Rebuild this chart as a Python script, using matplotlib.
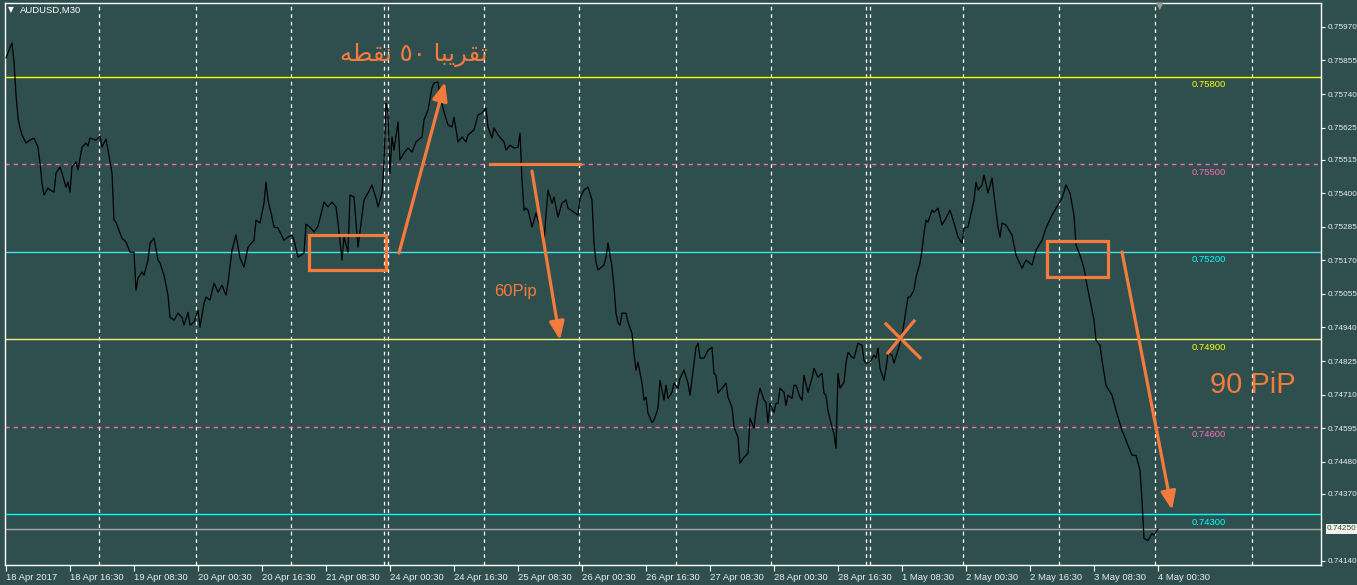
import matplotlib
matplotlib.use('Agg')
import matplotlib.pyplot as plt
from matplotlib.patches import Rectangle

# AUDUSD M30 closes (bar number, price)
bars = [0, 3, 4, 5, 6, 7, 8, 10, 12, 14, 16, 17, 18, 19, 21, 22, 24, 25, 27, 28,
        30, 31, 32, 33, 35, 36, 38, 40, 41, 42, 45, 47, 48, 50, 51, 53, 54, 55, 56, 58,
        60, 62, 64, 65, 66, 68, 69, 71, 72, 74, 76, 77, 79, 81, 82, 84, 86, 88, 89, 91,
        92, 94, 96, 97, 99, 100, 102, 104, 106, 108, 110, 111, 113, 115, 117, 119, 121, 124, 125, 127,
        129, 130, 131, 133, 134, 136, 139, 141, 143, 144, 146, 149, 150, 152, 154, 156, 158, 159, 161, 163,
        165, 166, 168, 169, 171, 172, 174, 176, 179, 181, 183, 185, 186, 188, 189, 190, 191, 192, 193, 194,
        196, 197, 199, 201, 203, 205, 208, 209, 211, 213, 214, 216, 217, 219, 221, 223, 224, 226, 228, 230,
        231, 234, 236, 238, 240, 241, 243, 244, 246, 249, 250, 252, 254, 256, 257, 258, 259, 260, 261, 263,
        265, 266, 268, 269, 271, 273, 274, 276, 278, 280, 281, 284, 286, 287, 289, 291, 293, 294, 295, 296,
        299, 300, 301, 303, 304, 305, 306, 307, 308, 310, 311, 313, 314, 315, 316, 318, 319, 320, 321, 323,
        324, 326, 327, 329, 330, 331, 333, 334, 336, 337, 339, 341, 342, 344, 345, 346, 347, 349, 351, 353,
        354, 355, 356, 358, 360, 361, 363, 364, 366, 367, 369, 371, 372, 374, 375, 376, 377, 379, 380, 381,
        382, 384, 385, 386, 387, 389, 390, 391, 393, 394, 395, 397, 398, 399, 401, 403, 404, 406, 408, 409,
        410, 411, 413, 414, 415, 416, 417, 419, 420, 421, 423, 424, 426, 428, 429, 430, 432, 434, 435, 436,
        437, 439, 440, 441, 443, 444, 446, 448, 449, 451, 452, 454, 455, 457, 458, 459, 460, 461, 463, 464,
        466, 468, 470, 472, 474, 476, 478, 479, 481, 482, 484, 485, 486, 488, 489, 491, 493, 494, 496, 497,
        498, 500, 503, 505, 508, 510, 513, 515, 518, 520, 523, 525, 528, 530, 532, 534, 535, 537, 539, 540,
        542, 544, 545, 547, 548, 550, 553, 555, 558, 560, 563, 565, 567, 568, 569, 571, 573, 574, 576]
close = [0.75864, 0.75915, 0.75850, 0.75737, 0.75658, 0.75624, 0.75600, 0.75572, 0.75582, 0.75589,
         0.75558, 0.75504, 0.75435, 0.75394, 0.75418, 0.75411, 0.75404, 0.75469, 0.75490, 0.75469,
         0.75421, 0.75438, 0.75404, 0.75490, 0.75507, 0.75480, 0.75558, 0.75572, 0.75562, 0.75589,
         0.75582, 0.75596, 0.75558, 0.75586, 0.75548, 0.75469, 0.75308, 0.75301, 0.75281, 0.75246,
         0.75233, 0.75198, 0.75198, 0.75068, 0.75109, 0.75130, 0.75119, 0.75171, 0.75229, 0.75246,
         0.75171, 0.75161, 0.75119, 0.75051, 0.74975, 0.74965, 0.74989, 0.74975, 0.74948, 0.74992,
         0.74948, 0.74958, 0.74999, 0.74941, 0.75023, 0.75044, 0.75034, 0.75092, 0.75061, 0.75085,
         0.75051, 0.75092, 0.75205, 0.75257, 0.75178, 0.75147, 0.75215, 0.75239, 0.75308, 0.75298,
         0.75366, 0.75438, 0.75377, 0.75318, 0.75284, 0.75281, 0.75239, 0.75250, 0.75257, 0.75239,
         0.75181, 0.75195, 0.75294, 0.75284, 0.75267, 0.75287, 0.75342, 0.75370, 0.75353, 0.75370,
         0.75353, 0.75298, 0.75171, 0.75250, 0.75198, 0.75394, 0.75387, 0.75215, 0.75377, 0.75401,
         0.75428, 0.75383, 0.75353, 0.75401, 0.75504, 0.75709, 0.75675, 0.75469, 0.75593, 0.75548,
         0.75644, 0.75514, 0.75538, 0.75555, 0.75541, 0.75576, 0.75593, 0.75651, 0.75685, 0.75761,
         0.75778, 0.75781, 0.75737, 0.75678, 0.75634, 0.75627, 0.75661, 0.75576, 0.75593, 0.75576,
         0.75600, 0.75617, 0.75668, 0.75675, 0.75692, 0.75627, 0.75589, 0.75624, 0.75600, 0.75576,
         0.75548, 0.75565, 0.75555, 0.75558, 0.75606, 0.75445, 0.75342, 0.75349, 0.75342, 0.75284,
         0.75332, 0.75308, 0.75274, 0.75239, 0.75411, 0.75366, 0.75387, 0.75318, 0.75366, 0.75377,
         0.75349, 0.75335, 0.75325, 0.75383, 0.75411, 0.75421, 0.75377, 0.75229, 0.75164, 0.75137,
         0.75154, 0.75181, 0.75229, 0.75147, 0.75078, 0.74989, 0.74955, 0.74948, 0.74989, 0.74989,
         0.74958, 0.74920, 0.74852, 0.74794, 0.74821, 0.74749, 0.74691, 0.74701, 0.74646, 0.74615,
         0.74622, 0.74663, 0.74759, 0.74691, 0.74742, 0.74697, 0.74718, 0.74749, 0.74732, 0.74766,
         0.74794, 0.74749, 0.74708, 0.74818, 0.74872, 0.74886, 0.74835, 0.74835, 0.74862, 0.74872,
         0.74783, 0.74776, 0.74715, 0.74732, 0.74749, 0.74701, 0.74667, 0.74598, 0.74564, 0.74475,
         0.74495, 0.74509, 0.74629, 0.74595, 0.74656, 0.74701, 0.74732, 0.74691, 0.74684, 0.74612,
         0.74680, 0.74649, 0.74680, 0.74680, 0.74732, 0.74718, 0.74673, 0.74708, 0.74697, 0.74742,
         0.74742, 0.74701, 0.74691, 0.74776, 0.74718, 0.74766, 0.74800, 0.74769, 0.74783, 0.74715,
         0.74708, 0.74656, 0.74598, 0.74577, 0.74526, 0.74783, 0.74732, 0.74752, 0.74818, 0.74855,
         0.74838, 0.74835, 0.74886, 0.74879, 0.74828, 0.74818, 0.74821, 0.74845, 0.74835, 0.74869,
         0.74800, 0.74759, 0.74800, 0.74852, 0.74845, 0.74818, 0.74862, 0.74914, 0.74955, 0.75044,
         0.75044, 0.75068, 0.75112, 0.75161, 0.75205, 0.75263, 0.75308, 0.75301, 0.75342, 0.75335,
         0.75349, 0.75291, 0.75315, 0.75342, 0.75298, 0.75250, 0.75229, 0.75281, 0.75284, 0.75315,
         0.75377, 0.75438, 0.75411, 0.75428, 0.75462, 0.75401, 0.75452, 0.75394, 0.75284, 0.75250,
         0.75298, 0.75291, 0.75257, 0.75188, 0.75143, 0.75171, 0.75154, 0.75205, 0.75239, 0.75281,
         0.75325, 0.75349, 0.75383, 0.75428, 0.75401, 0.75325, 0.75222, 0.75188, 0.75143, 0.75102,
         0.75034, 0.74965, 0.74896, 0.74879, 0.74828, 0.74742, 0.74708, 0.74656, 0.74588, 0.74553,
         0.74502, 0.74502, 0.74451, 0.74348, 0.74217, 0.74210, 0.74234, 0.74228, 0.74250]

time_labels = ['18 Apr 2017', '18 Apr 16:30', '19 Apr 08:30', '20 Apr 00:30', '20 Apr 16:30',
               '21 Apr 08:30', '24 Apr 00:30', '24 Apr 16:30', '25 Apr 08:30', '26 Apr 00:30',
               '26 Apr 16:30', '27 Apr 08:30', '28 Apr 00:30', '28 Apr 16:30', '1 May 08:30',
               '2 May 00:30', '2 May 16:30', '3 May 08:30', '4 May 00:30']
bars_per_label = 32
price_ticks = [0.75970, 0.75855, 0.75740, 0.75625, 0.75515, 0.75400, 0.75285, 0.75170, 0.75055,
               0.74940, 0.74825, 0.74710, 0.74595, 0.74480, 0.74370, 0.74140]
day_breaks = [46.5, 95, 142.5, 189, 191, 239, 286.5, 335, 382.5, 430, 432, 478.5, 526.5, 574.5, 623]

levels = [0.75800, 0.75500, 0.75200, 0.74900, 0.74600, 0.74300]
level_line_colors = ['#ffff00', '#ff69b4', '#3ee6e6', '#f2f27a', '#ff69b4', '#00ffff']
level_text_colors = ['#ffff00', '#ff69b4', '#00ffff', '#ffff00', '#ff69b4', '#00ffff']
level_dashed = [False, True, False, False, True, False]
bid = 0.74250

BG = '#2f4f4f'
ORANGE = '#f57b3d'
SMALL = 6.8

fig = plt.figure(figsize=(13.57, 5.85), dpi=100, facecolor=BG)
ax = fig.add_axes([5 / 1357, 20 / 585, 1316 / 1357, 562 / 585], facecolor=BG)
ax.set_xlim(-0.5, 657.5)
ax.set_ylim(0.74126, 0.76052)

for s in ax.spines.values():
    s.set_color('white')
    s.set_linewidth(1)

# day separators
for b in day_breaks:
    ax.axvline(b, color='white', lw=0.9, ls=(0, (3, 3)), zorder=1)

# price levels
for lv, lc, tc, dashed in zip(levels, level_line_colors, level_text_colors, level_dashed):
    ax.axhline(lv, color=lc, lw=1.0, ls=(0, (3, 3)) if dashed else '-', zorder=1)
    ax.annotate('%.5f' % lv, xy=(601.5, lv), xytext=(0, -8), textcoords='offset pixels',
                ha='center', va='center', color=tc, fontsize=SMALL, family='Liberation Sans')
ax.axhline(bid, color='#a8a8a8', lw=1.0, zorder=1)

ax.plot(bars, close, color='black', lw=0.9, zorder=3)

# axes ticks
ax.yaxis.tick_right()
ax.set_yticks(price_ticks)
ax.set_yticklabels(['%.5f' % v for v in price_ticks])
ax.set_xticks([i * bars_per_label for i in range(len(time_labels))])
ax.set_xticklabels(time_labels, ha='left')
ax.tick_params(axis='both', colors='white', labelcolor='#ececec', length=4, width=0.8)
ax.tick_params(axis='x', pad=2, labelsize=SMALL)
ax.tick_params(axis='y', length=3, pad=1.5, labelsize=5.9)
for lab in ax.get_xticklabels() + ax.get_yticklabels():
    lab.set_family('Liberation Sans')

ax.annotate('%.5f' % bid, xy=(1, bid), xycoords=('axes fraction', 'data'), xytext=(6, 0),
            textcoords='offset pixels', va='center', ha='left', color='#2f4f4f', fontsize=5.9,
            family='Liberation Sans',
            bbox=dict(boxstyle='square,pad=0.15', fc='#f4f4e6', ec='none'))

# header
fig.text(11 / 1357, 1 - 10 / 585, '\u25bc', color='white', fontsize=5.5, ha='center', va='center')
fig.text(20 / 1357, 1 - 10 / 585, 'AUDUSD,M30', color='white', fontsize=SMALL, va='center',
         family='Liberation Sans')
fig.text(1160 / 1357, 1 - 6 / 585, '\u25bc', color='#9a9a9a', fontsize=7, ha='center', va='center')

# hand-drawn markup
arrow_kw = dict(arrowstyle='-|>,head_length=1.1,head_width=0.45', color=ORANGE, lw=2.3,
                shrinkA=0, shrinkB=0, mutation_scale=10)
ax.add_patch(Rectangle((151.5, 0.75137), 38.5, 0.0012, fill=False, ec=ORANGE, lw=2.3, zorder=4))
ax.annotate('', xy=(219.5, 0.75781), xytext=(196.5, 0.75195), arrowprops=arrow_kw, zorder=4)
ax.plot([242, 287], [0.75500, 0.75500], color=ORANGE, lw=2.3, zorder=4)
ax.annotate('', xy=(277, 0.74897), xytext=(263, 0.75476), arrowprops=arrow_kw, zorder=4)
ax.add_patch(Rectangle((520.5, 0.75113), 30.5, 0.00124, fill=False, ec=ORANGE, lw=2.3, zorder=4))
ax.annotate('', xy=(583, 0.74315), xytext=(558, 0.75199), arrowprops=arrow_kw, zorder=4)
ax.plot([440, 457], [0.74952, 0.74836], color=ORANGE, lw=2.3, zorder=4)
ax.plot([454, 441], [0.74962, 0.74853], color=ORANGE, lw=2.3, zorder=4)

arabic = '\uFEEA\uFEC4\uFED8\uFEE7 \u0665\u0660 \uFE8E\uFE92\uFEF3\uFEAE\uFED8\uFE97'
ax.text(204, 0.75874, arabic, color=ORANGE, fontsize=17.5, ha='center', va='center',
        family='DejaVu Sans', zorder=5)
ax.text(254.5, 0.75062, '60Pip', color=ORANGE, fontsize=12, ha='center', va='center',
        family='Liberation Sans', zorder=5)
ax.text(623.5, 0.74743, '90 PiP', color=ORANGE, fontsize=21, ha='center', va='center',
        family='Liberation Sans', zorder=5)

fig.savefig('out.png', dpi=100, facecolor=BG)
